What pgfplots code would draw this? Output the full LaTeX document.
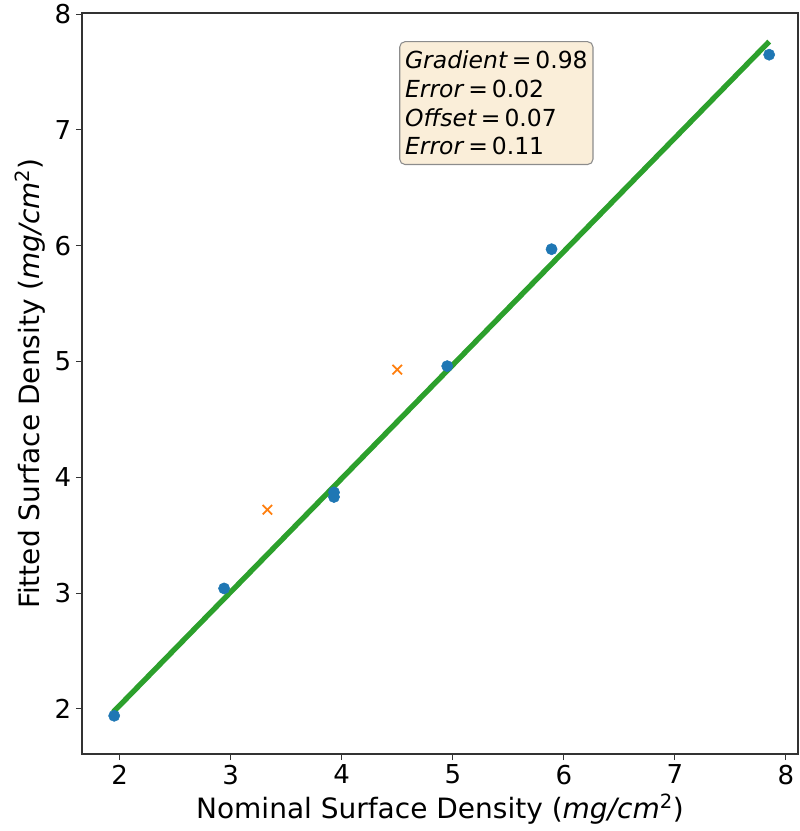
\documentclass[border=0pt]{standalone}
\usepackage{pgfplots}
\pgfplotsset{compat=1.18}
\usepackage{fontspec}
\setmainfont{DejaVu Sans}
\definecolor{mplblue}{HTML}{1F77B4}
\definecolor{mplorange}{HTML}{FF7F0E}
\definecolor{mplgreen}{HTML}{2CA02C}
\definecolor{boxfill}{RGB}{250,238,217}
\begin{document}
\begin{tikzpicture}
\begin{axis}[
  at={(0,0)}, anchor=south west,
  scale only axis,
  width=537pt, height=555.75pt,
  xmin=1.66, xmax=8.11,
  ymin=1.61, ymax=8.01,
  xtick={2,3,4,5,6,7,8},
  ytick={2,3,4,5,6,7,8},
  tick align=outside,
  tick pos=left,
  major tick length=4.5pt,
  minor tick num=0,
  axis line style={line width=0.8pt, black!80},
  every tick/.style={line width=0.8pt, black!80},
  /pgf/number format/assume math mode=true,
  ticklabel style={font=\fontsize{19.5}{22}\selectfont},
  label style={font=\fontsize{21}{25}\selectfont},
  xlabel={Nominal Surface Density (\textit{mg/cm}\textsuperscript{2})},
  ylabel={Fitted Surface Density (\textit{mg/cm}\textsuperscript{2})},
  clip=false,
]
\addplot[mplgreen, line width=4pt, no marks] coordinates {(1.94,1.971) (7.85,7.763)};
\addplot[only marks, mark=*, mark size=4.2pt, color=mplblue, mark options={fill=mplblue, draw=mplblue}] coordinates {
(1.95,1.94) (2.94,3.04) (3.93,3.83) (3.93,3.87) (4.95,4.96) (5.89,5.97) (7.85,7.65)};
\addplot[only marks, mark=x, mark size=5pt, color=mplorange, mark options={line width=1.3pt}] coordinates {
(3.33,3.72) (4.50,4.93)};
\node[anchor=north west, draw=black!45, fill=boxfill, rounded corners=4pt, line width=0.8pt,
  align=left, font=\fontsize{17.6}{21.5}\selectfont, inner xsep=4pt, inner ysep=7pt]
  at (rel axis cs:0.443,0.962)
  {\textit{Gradient}\,=\,0.98\\ \textit{Error}\,=\,0.02\\ \textit{Offset}\,=\,0.07\\ \textit{Error}\,=\,0.11};
\end{axis}
\pgfresetboundingbox
\path (-61.5pt,-57.75pt) rectangle (537.75pt,565.5pt);
\end{tikzpicture}
\end{document}
